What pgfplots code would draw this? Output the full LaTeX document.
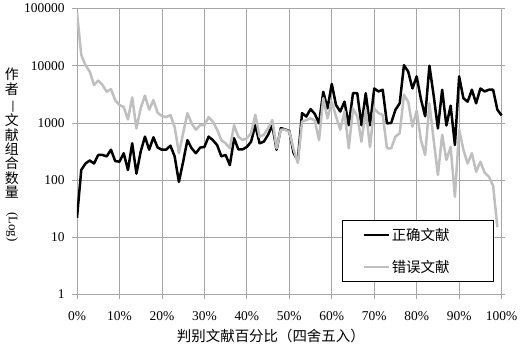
\documentclass[border=0pt]{standalone}
\usepackage{fontspec}
\setmainfont{Liberation Serif}
\newfontfamily\cjk{Noto Sans CJK SC}
\usepackage{graphicx}
\usepackage{pgfplots}
\pgfplotsset{compat=1.18}
\definecolor{gridc}{RGB}{166,166,166}
\definecolor{sergray}{RGB}{191,191,191}
\begin{document}
\begin{tikzpicture}
\begin{axis}[
  scale only axis, width=428bp, height=286bp,
  xmin=0, xmax=100.8, ymode=log, log basis y=10, ymin=1, ymax=100000,
  xtick={0,10,20,30,40,50,60,70,80,90,100},
  xticklabels={0\%,10\%,20\%,30\%,40\%,50\%,60\%,70\%,80\%,90\%,100\%},
  ytick={1,10,100,1000,10000,100000},
  yticklabels={1,10,100,1000,10000,100000},
  yminorticks=false,
  grid=major, major grid style={gridc, line width=0.8bp},
  axis lines*=left, axis line style={gridc, line width=0.8bp, -},
  tick style={gridc, line width=0.8bp}, tick align=outside, major tick length=5bp,
  ticklabel style={font=\fontsize{13.5}{16}\selectfont},
  xticklabel style={yshift=-9bp},
  yticklabel style={xshift=-4bp},
  xlabel={判别文献百分比（四舍五入）},
  xlabel style={font=\cjk\fontsize{14.5}{17}\selectfont, at={(axis description cs:0.453,-0.145)}, anchor=center},
  ylabel={作\\者\\\rotatebox[origin=c]{-90}{—}\\文\\献\\组\\合\\数\\量\\\rotatebox{-90}{\rmfamily\fontsize{13}{13}\selectfont(Log)}},
  ylabel style={rotate=-90, align=center, font=\cjk\fontsize{14}{14.5}\selectfont, at={(axis description cs:-0.152,0.488)}, anchor=center},
  legend style={at={(0.974,0.2605)}, anchor=north east, draw=black, line width=0.6bp, fill=white, inner xsep=20bp, inner ysep=6bp, row sep=14bp, font=\cjk\fontsize{14.5}{17}\selectfont},
  legend cell align=left,
  legend image code/.code={\draw[#1] (0bp,0bp) -- (25bp,0bp);},
]
\addplot[black, line width=2.5bp, line join=round] coordinates {
(0,22)(1,150)(2,195)(3,220)(4,195)(5,275)(6,275)(7,260)(8,340)(9,215)
(10,210)(11,295)(12,150)(13,440)(14,130)(15,315)(16,575)(17,340)(18,560)(19,370)
(20,340)(21,340)(22,400)(23,260)(24,93)(25,210)(26,500)(27,360)(28,295)(29,370)
(30,380)(31,575)(32,500)(33,410)(34,260)(35,275)(36,183)(37,540)(38,345)(39,345)
(40,380)(41,470)(42,910)(43,440)(44,470)(45,620)(46,910)(47,340)(48,810)(49,770)
(50,720)(51,300)(52,220)(53,1480)(54,1290)(55,1740)(56,1440)(57,980)(58,3500)(59,1800)
(60,4800)(61,2050)(62,1580)(63,2350)(64,910)(65,3300)(66,3300)(67,910)(68,3300)(69,910)
(70,4000)(71,3550)(72,3800)(73,980)(74,1000)(75,1700)(76,2200)(77,10200)(78,7900)(79,4000)
(80,6500)(81,2600)(82,1300)(83,10000)(84,3000)(85,800)(86,3800)(87,900)(88,2000)(89,410)
(90,6500)(91,2700)(92,2350)(93,3800)(94,2200)(95,4000)(96,3550)(97,3800)(98,3800)(99,1700)
(100,1350)
};
\addlegendentry{正确文献\hspace*{22bp}}
\addplot[sergray, line width=2.5bp, line join=round] coordinates {
(0,85000)(1,15500)(2,10200)(3,7900)(4,4600)(5,5500)(6,4600)(7,3500)(8,3900)(9,2500)
(10,2050)(11,1900)(12,1150)(13,2800)(14,800)(15,1800)(16,3000)(17,1700)(18,2500)(19,1500)
(20,1320)(21,1260)(22,1370)(23,850)(24,295)(25,660)(26,1480)(27,980)(28,760)(29,910)
(30,910)(31,1260)(32,1050)(33,760)(34,500)(35,440)(36,360)(37,910)(38,575)(39,500)
(40,540)(41,660)(42,1380)(43,575)(44,620)(45,810)(46,1120)(47,360)(48,760)(49,760)
(50,700)(51,350)(52,200)(53,1050)(54,1120)(55,1200)(56,1100)(57,500)(58,2700)(59,1200)
(60,2350)(61,1300)(62,760)(63,1580)(64,360)(65,1790)(66,1300)(67,470)(68,1700)(69,380)
(70,1790)(71,1480)(72,1380)(73,360)(74,360)(75,575)(76,660)(77,3100)(78,2350)(79,860)
(80,1650)(81,500)(82,275)(83,2200)(84,500)(85,123)(86,620)(87,225)(88,380)(89,51)
(90,760)(91,340)(92,195)(93,295)(94,140)(95,210)(96,135)(97,115)(98,80)(99,15)
};
\addlegendentry{错误文献\hspace*{22bp}}
\end{axis}
\pgfresetboundingbox
\path[use as bounding box] ([shift={(-77bp,-56.5bp)}]current axis.south west) rectangle ([shift={(17bp,8.5bp)}]current axis.north east);
\end{tikzpicture}
\end{document}
